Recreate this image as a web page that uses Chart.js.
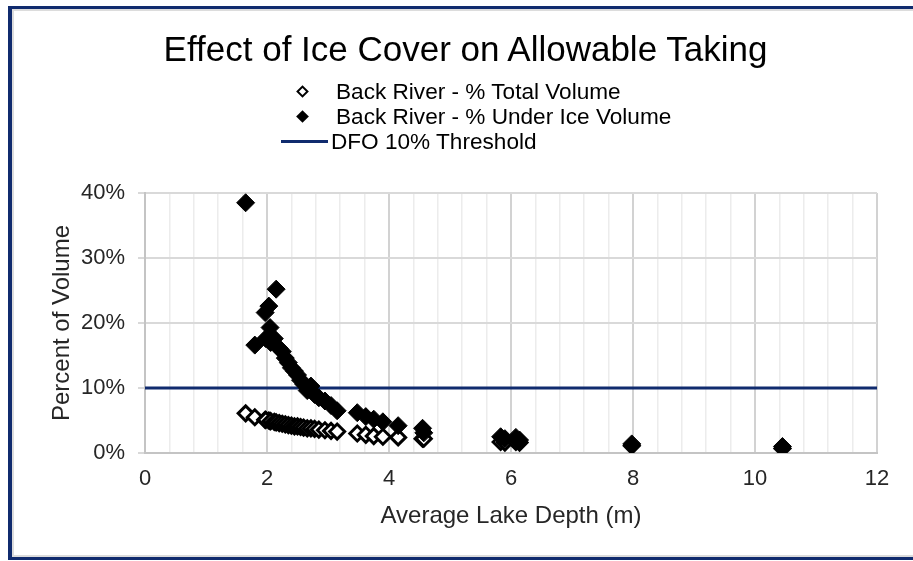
<!DOCTYPE html>
<html>
<head>
<meta charset="utf-8">
<script src="https://cdn.jsdelivr.net/npm/chart.js@4/dist/chart.umd.min.js"></script>
<style>
  html, body { margin: 0; padding: 0; background: #fff; overflow: hidden; }
  body { width: 913px; height: 561px; position: relative; font-family: 'Liberation Sans', Arial, sans-serif; }
  #frame {
    position: absolute; left: 8px; top: 6px; width: 1000px; height: 548px;
    border: 3px solid #102b6e; border-left-width: 4px;
    box-shadow: inset 2px 2px 0 0 #dcdcdc, inset 0 -2px 0 0 #dcdcdc;
  }
  #chart { position: absolute; left: 0; top: 0; }
  #title {
    position: absolute; left: 0; width: 931px; top: 29px; line-height: 40px;
    text-align: center; font-size: 35px; color: #000;
  }
  .leg { position: absolute; font-size: 22.6px; line-height: 24px; color: #000; white-space: nowrap; }
  .mk { position: absolute; box-sizing: border-box; width: 9px; height: 9px; transform: rotate(45deg); }
  .ln { position: absolute; height: 3px; background: #102b6e; }
</style>
</head>
<body>
<div id="frame"></div>
<canvas id="chart" width="913" height="561"></canvas>
<div id="title">Effect of Ice Cover on Allowable Taking</div>
<span class="mk" style="left:298px;top:87px;border:2.5px solid #000;background:#fff"></span>
<div class="leg" style="left:336px;top:80px">Back River - % Total Volume</div>
<span class="mk" style="left:298px;top:112px;background:#000"></span>
<div class="leg" style="left:336px;top:105px">Back River - % Under Ice Volume</div>
<span class="ln" style="left:281px;width:47px;top:140px"></span>
<div class="leg" style="left:331px;top:130px">DFO 10% Threshold</div>
<script>
// lake depth (m) and share of volume taken (%)
const depthM = [1.65, 1.80, 1.97, 2.03, 2.05, 1.98, 2.06, 2.12, 2.15, 2.20, 2.25, 2.30, 2.35, 2.40, 2.45,
    2.50, 2.55, 2.60, 2.66, 2.72, 2.78, 2.85, 2.95, 3.05, 3.15, 3.48, 3.62, 3.75, 3.90, 4.15,
    4.55, 4.57, 5.83, 5.90, 6.08, 6.14, 7.98, 10.45];
const pctTotalVolume = [6.1, 5.5, 5.1, 5.0, 4.9, 5.1, 4.9, 4.8, 4.7, 4.6, 4.5, 4.4, 4.3, 4.2, 4.1,
    4.1, 4.0, 3.9, 3.8, 3.8, 3.7, 3.6, 3.5, 3.4, 3.3, 3.0, 2.8, 2.6, 2.5, 2.4,
    2.2, 2.2, 1.7, 1.6, 1.7, 1.6, 1.1, 0.7];
const pctUnderIceVolume = [38.5, 16.6, 21.6, 22.6, 19.3, 17.6, 17.0, 17.6, 25.2, 16.1, 15.6, 14.6, 13.9, 13.1, 12.6,
    12.0, 11.2, 10.6, 9.6, 10.3, 9.0, 8.5, 8.0, 7.3, 6.5, 6.2, 5.6, 5.2, 4.8, 4.2,
    3.8, 3.1, 2.5, 2.2, 2.4, 2.0, 1.4, 1.0];
const thresholdDepth = [0, 12];
const thresholdPct = [10, 10];

const FONT = "'Liberation Sans', Arial, sans-serif";
const isMajor = v => Math.abs(v / 2 - Math.round(v / 2)) < 1e-6;
const pts = (xs, ys) => xs.map((x, i) => ({ x, y: ys[i] }));

new Chart(document.getElementById('chart'), {
    type: 'scatter',
    data: {
        datasets: [
            {
                label: 'Back River - % Under Ice Volume',
                data: pts(depthM, pctUnderIceVolume),
                pointStyle: 'rectRot',
                pointRadius: 9,
                backgroundColor: '#000',
                borderColor: '#000',
                borderWidth: 1
            },
            {
                label: 'Back River - % Total Volume',
                data: pts(depthM, pctTotalVolume),
                pointStyle: 'rectRot',
                pointRadius: 7.5,
                backgroundColor: '#fff',
                borderColor: '#000',
                borderWidth: 3
            },
            {
                label: 'DFO 10% Threshold',
                type: 'line',
                data: pts(thresholdDepth, thresholdPct),
                borderColor: '#102b6e',
                borderWidth: 3,
                pointRadius: 0
            }
        ]
    },
    options: {
        responsive: false,
        animation: false,
        devicePixelRatio: 1,
        layout: { padding: { top: 193, left: 0, right: 36, bottom: 0 } },
        plugins: { legend: { display: false }, tooltip: { enabled: false } },
        scales: {
            x: {
                type: 'linear',
                min: 0, max: 12,
                afterFit: s => { s.height = 108; },
                border: { color: '#c4c4c4', width: 2 },
                grid: {
                    drawTicks: false,
                    color: c => isMajor(c.tick.value) ? '#d2d2d2' : '#ececec',
                    lineWidth: c => isMajor(c.tick.value) ? 2 : 1.5
                },
                ticks: {
                    stepSize: 0.4,
                    autoSkip: false,
                    maxRotation: 0, minRotation: 0,
                    padding: 13,
                    color: '#262626',
                    font: { family: FONT, size: 22 },
                    callback: v => isMajor(v) ? String(Math.round(v)) : ''
                },
                title: {
                    display: true,
                    text: 'Average Lake Depth (m)',
                    color: '#262626',
                    font: { family: FONT, size: 24 },
                    padding: { top: 0, bottom: 30 }
                }
            },
            y: {
                min: 0, max: 40,
                afterFit: s => { s.width = 145; },
                border: { color: '#c4c4c4', width: 2 },
                grid: { color: '#d9d9d9', lineWidth: 2, tickLength: 7 },
                ticks: {
                    stepSize: 10,
                    padding: 13,
                    color: '#262626',
                    font: { family: FONT, size: 22 },
                    callback: v => v + '%'
                },
                title: {
                    display: true,
                    text: 'Percent of Volume',
                    color: '#262626',
                    font: { family: FONT, size: 24 },
                    padding: { top: 48, bottom: 0 }
                }
            }
        }
    }
});
</script>
</body>
</html>
